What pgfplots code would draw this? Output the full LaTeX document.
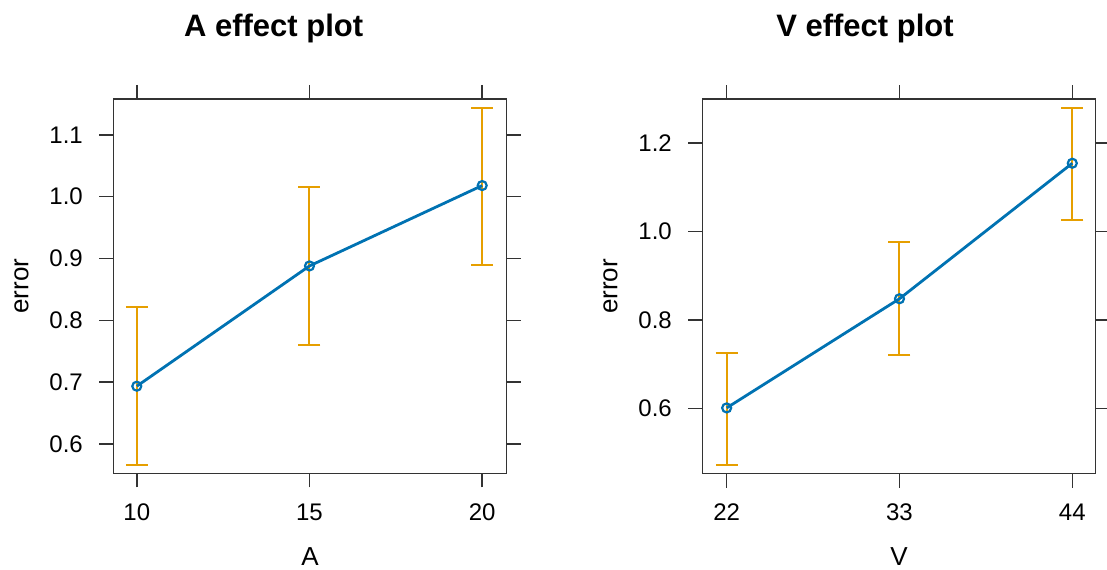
\documentclass[border=0pt]{standalone}
\usepackage{fontspec}
\setmainfont{Liberation Sans}
\usepackage{pgfplots}
\pgfplotsset{compat=1.18}
\usepackage{pgfplotstable}

\definecolor{effblue}{HTML}{0072B2}
\definecolor{efforange}{HTML}{E69F00}
\definecolor{framegray}{HTML}{333333}

% fitted effect and 95% band for each predictor
\pgfplotstableread{
x  y      lo     hi
10 0.6935 0.566  0.821
15 0.888  0.760  1.015
20 1.018  0.890  1.144
}\effA

\pgfplotstableread{
x  y      lo     hi
22 0.6015 0.473  0.726
33 0.848  0.721  0.976
44 1.154  1.026  1.278
}\effV

\pgfplotsset{
  effect/.style={
    scale only axis, width=393.4bp, height=374.3bp,
    axis line style={framegray, line width=1.5bp},
    tick align=outside, major tick length=14bp,
    tick style={framegray, line width=1.5bp},
    xtick pos=both, ytick pos=both,
    xticklabel pos=lower, yticklabel pos=left,
    tick label style={font=\fontsize{24bp}{28bp}\selectfont},
    /pgf/number format/assume math mode=true,
    label style={font=\fontsize{26bp}{30bp}\selectfont},
    xlabel style={at={(axis description cs:0.5,-0.2470)}, anchor=base},
    ylabel style={at={(axis description cs:-0.216,0.5)}, anchor=base},
    xticklabel style={anchor=base, yshift=-33bp},
    yticklabel style={anchor=east, xshift=-13bp,
      /pgf/number format/.cd, fixed, fixed zerofill, precision=1},
    ylabel={error},
  },
  bandstyle/.style={draw=none, mark=none, forget plot,
    error bars/.cd, y dir=both, y explicit,
    error bar style={draw=efforange, line width=2bp},
    error mark options={draw=efforange, line width=2bp, mark size=11bp, rotate=90}},
  fitstyle/.style={effblue, line width=2.8bp, mark=o, mark size=4.5bp,
    mark options={line width=2.2bp, fill=white}},
}

\begin{document}
\begin{tikzpicture}
\useasboundingbox (0,0) rectangle (1107bp,-570bp);

\node[anchor=base, font=\bfseries\fontsize{31bp}{36bp}\selectfont] at (273.6bp,-36bp) {A effect plot};
\node[anchor=base, font=\bfseries\fontsize{31bp}{36bp}\selectfont] at (865bp,-36bp) {V effect plot};

\begin{axis}[effect, at={(113.3bp,-473.3bp)}, anchor=south west,
  xmin=9.32, xmax=20.71, ymin=0.5526, ymax=1.158,
  xtick={10,15,20}, ytick={0.6,0.7,0.8,0.9,1.0,1.1},
  xlabel={A}]
  \addplot[bandstyle] table[x=x, y=y,
    y error plus expr=\thisrow{hi}-\thisrow{y},
    y error minus expr=\thisrow{y}-\thisrow{lo}] {\effA};
  \addplot[fitstyle] table[x=x, y=y] {\effA};
\end{axis}

\begin{axis}[effect, at={(702.3bp,-473.5bp)}, anchor=south west,
  xmin=20.45, xmax=45.49, ymin=0.4534, ymax=1.2986,
  xtick={22,33,44}, ytick={0.6,0.8,1.0,1.2},
  xlabel={V}]
  \addplot[bandstyle] table[x=x, y=y,
    y error plus expr=\thisrow{hi}-\thisrow{y},
    y error minus expr=\thisrow{y}-\thisrow{lo}] {\effV};
  \addplot[fitstyle] table[x=x, y=y] {\effV};
\end{axis}
\end{tikzpicture}
\end{document}
